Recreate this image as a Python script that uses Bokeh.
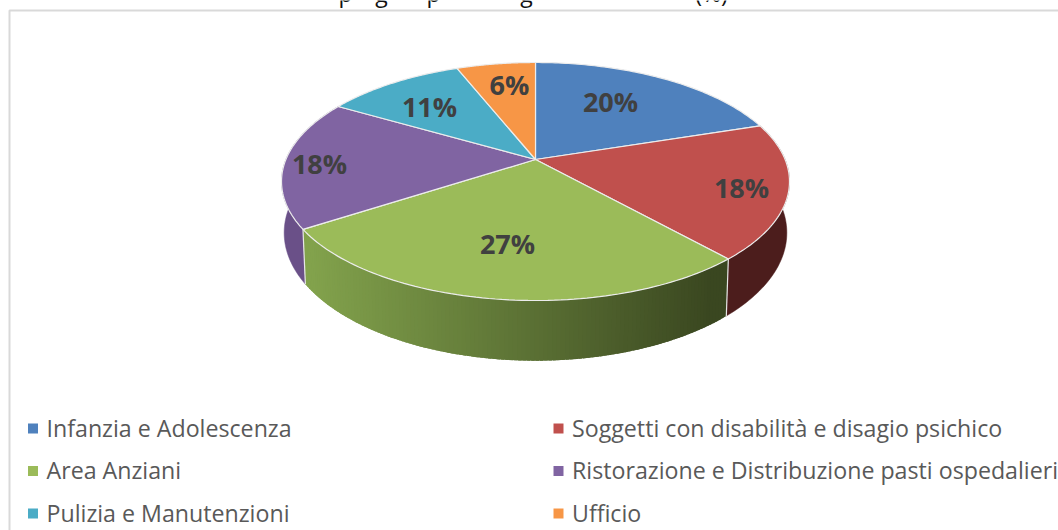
import math
from bokeh.plotting import figure
from bokeh.embed import file_html
from bokeh.resources import INLINE
from bokeh.core.properties import value

categories = ["Infanzia e Adolescenza", "Soggetti con disabilità e disagio psichico",
              "Area Anziani", "Ristorazione e Distribuzione pasti ospedalieri",
              "Pulizia e Manutenzioni", "Ufficio"]
values = [20.0, 18.4, 27.4, 17.6, 10.6, 6.0]
labels = ["20%", "18%", "27%", "18%", "11%", "6%"]
colors = ["#4f81bd", "#c0504d", "#9bbb59", "#8064a2", "#4bacc6", "#f79646"]
wall_colors = ["#3a5f8e", "#4c1d1c", None, "#6a5088", "#38819a", "#b97034"]
title_bits = ["p", "g", "p", "g", "(%)"]

W, H = 1058, 530
CX = 535.0
PERSP = 0.1849


def project(frac, A, a, b):
    t = 2 * math.pi * frac
    u, v = math.sin(t), math.cos(t)
    w = 1 + PERSP * v
    return CX + A * u / w, (a * v + b) / w


def top(frac):
    return project(frac, 249.6, -85.54, 159.0)


def bottom(frac):
    return project(frac, 247.0, -85.0, 208.6)


def mix(c1, c2, t):
    return "#%02x%02x%02x" % tuple(round(c1[i] + (c2[i] - c1[i]) * t) for i in range(3))


p = figure(width=W, height=H, x_range=(0, W), y_range=(H, 0), output_backend="svg",
           toolbar_location=None, min_border=0, outline_line_color=None,
           background_fill_color="white", border_fill_color="white")
p.axis.visible = False
p.grid.visible = False

# chart frame
p.line([9, 9, W], [H, 10, 10], line_color="#d9d9d9", line_width=2)

total = sum(values)
edges = [0.0]
for val in values:
    edges.append(edges[-1] + val / total)

# side walls
for i in [1, 3]:
    n = 60
    fr = [edges[i] + (edges[i + 1] - edges[i]) * k / n for k in range(n + 1)]
    tp = [top(f) for f in fr]
    bt = [bottom(f) for f in reversed(fr)]
    p.patch([q[0] for q in tp + bt], [q[1] for q in tp + bt],
            fill_color=wall_colors[i], line_color=wall_colors[i], line_width=0.5)

# the green wall shades from left to right, as narrow overlapping strips
n = 120
G0, G1 = (0x82, 0xa2, 0x4c), (0x3a, 0x47, 0x20)
xs, ys, cs = [], [], []
for k in range(n):
    f0 = edges[2] + (edges[3] - edges[2]) * k / n
    f1 = edges[2] + (edges[3] - edges[2]) * min(k + 1.8, n) / n
    a, b, c, d = top(f0), top(f1), bottom(f1), bottom(f0)
    xs.append([a[0], b[0], c[0], d[0]])
    ys.append([a[1], b[1], c[1], d[1]])
    t = ((a[0] + b[0]) / 2 - (CX - 225)) / 400
    cs.append(mix(G0, G1, max(0, min(1, t))))
p.patches(xs, ys, fill_color=cs, line_color=None)

# wall seams
for f in (edges[2], edges[3]):
    a, b = top(f), bottom(f)
    p.line([a[0], b[0]], [a[1], b[1]], line_color="#e6e6e6", line_width=1.2)

# top face
xs, ys = [], []
for i in range(len(values)):
    n = 80
    fr = [edges[i] + (edges[i + 1] - edges[i]) * k / n for k in range(n + 1)]
    pts = [top(f) for f in fr]
    xs.append([CX] + [q[0] for q in pts])
    ys.append([159.0] + [q[1] for q in pts])
p.patches(xs, ys, fill_color=colors, line_color="#ececec", line_width=1.2)

# data labels
p.text([610, 741, 507, 319, 429, 509], [100.5, 186.5, 242.5, 162.5, 105.5, 83.5], text=labels,
       text_font=value("Open Sans"), text_font_style="bold", text_font_size="27px",
       text_color="#404040", text_align="center", text_baseline="middle")

# clipped title remains
p.text([345, 381, 433, 526, 711], [-8, -8, -8, -8, -8], text=title_bits,
       text_font=value("Open Sans"), text_font_size="23px", text_color="#111111",
       text_align="center", text_baseline="alphabetic")

# legend
lx = [32.5, 558, 32.5, 558, 32.5, 558]
ly = [427, 427, 469.5, 469.5, 512, 512]
p.scatter(lx, [y + 1 for y in ly], marker="square", size=10, fill_color=colors, line_color=None)
p.text([x + 13.5 for x in lx], ly, text=categories, text_font=value("Open Sans"),
       text_font_size="23.2px", text_color="#595959", text_align="left", text_baseline="middle")

open("out.html", "w").write(file_html(p, INLINE))
